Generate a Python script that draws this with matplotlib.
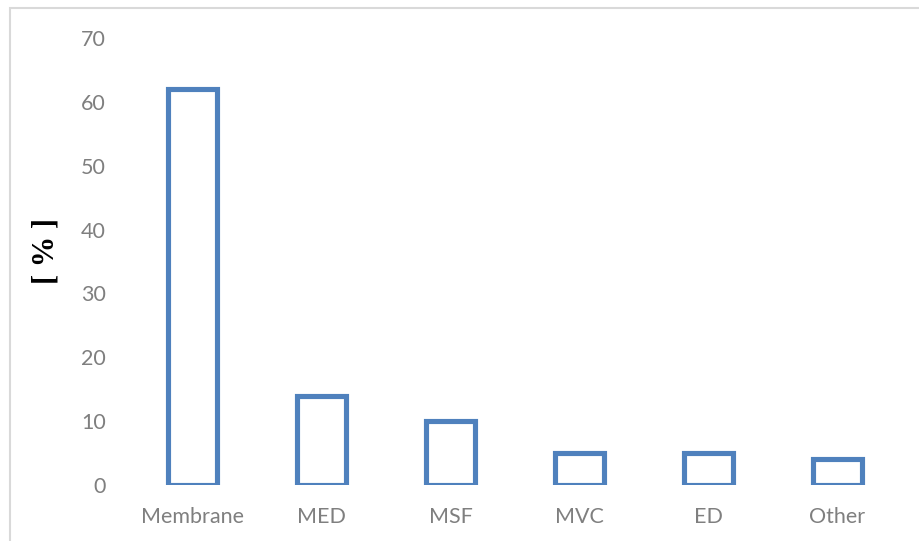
import matplotlib
matplotlib.use("Agg")
import matplotlib.pyplot as plt
from matplotlib.patches import Rectangle

categories = ["Membrane", "MED", "MSF", "MVC", "ED", "Other"]
shares = [62, 14, 10, 5, 5, 4]
y_ticks = [0, 10, 20, 30, 40, 50, 60, 70]

fig = plt.figure(figsize=(9.19, 5.41), dpi=100)
fig.patch.set_facecolor("white")

# light chart-area frame
fig.patches.append(Rectangle((10 / 919, -0.05), 1.2, 1 - 8 / 541 + 0.05,
                             transform=fig.transFigure, fill=False,
                             edgecolor="#D9D9D9", linewidth=1.5))

ax = fig.add_axes([128 / 919, 56 / 541, 774 / 919, 447 / 541])
x = list(range(len(categories)))
ax.bar(x, shares, width=0.375, facecolor="white", edgecolor="#4F81BD",
       linewidth=3.7, joinstyle="miter")

ax.set_xlim(-0.5, len(categories) - 0.5)
ax.set_ylim(0, 70)
ax.set_yticks(y_ticks)
ax.set_xticks(x)
ax.set_xticklabels(categories)
for s in ax.spines.values():
    s.set_visible(False)
ax.tick_params(axis="both", length=0, colors="#7F7F7F", labelsize=15.5)
ax.tick_params(axis="y", pad=16)
ax.tick_params(axis="x", pad=16)
for lbl in ax.get_xticklabels() + ax.get_yticklabels():
    lbl.set_fontfamily("Lato")
    lbl.set_color("#7F7F7F")

fig.text(46 / 919, 1 - 251 / 541, "[ % ]", rotation=90, ha="center",
         va="center", fontfamily="Liberation Serif", fontweight="bold",
         fontsize=22, color="black")

fig.savefig("out.png", dpi=100, facecolor="white")
